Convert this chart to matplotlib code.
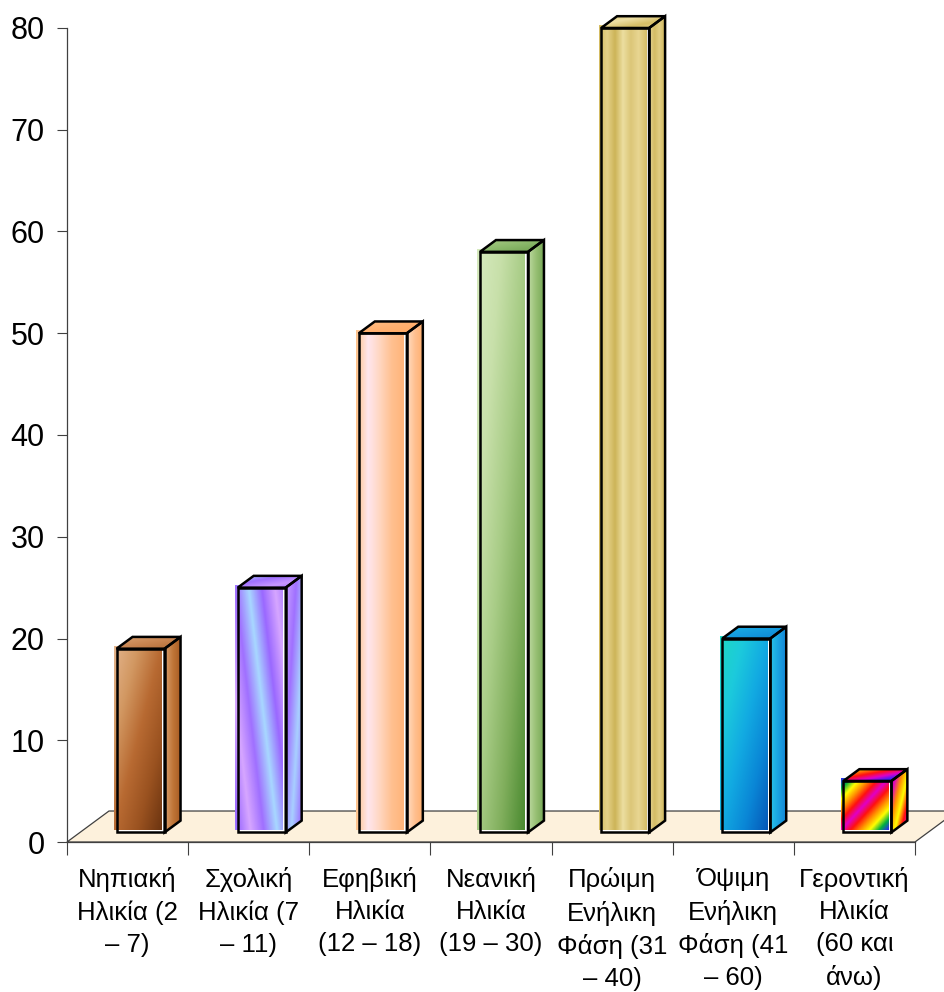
import numpy as np
import matplotlib.pyplot as plt
from matplotlib.colors import LinearSegmentedColormap
from matplotlib.patches import Polygon, Rectangle

plt.rcParams['font.family'] = ['Liberation Sans', 'DejaVu Sans']

categories = [
    "Νηπιακή\nΗλικία (2\n– 7)",
    "Σχολική\nΗλικία (7\n– 11)",
    "Εφηβική\nΗλικία\n(12 – 18)",
    "Νεανική\nΗλικία\n(19 – 30)",
    "Πρώιμη\nΕνήλικη\nΦάση (31\n– 40)",
    "Όψιμη\nΕνήλικη\nΦάση (41\n– 60)",
    "Γεροντική\nΗλικία\n(60 και\nάνω)",
]
values = [19, 25, 50, 58, 80, 20, 6]
yticks = list(range(0, 81, 10))

# gradient fills per bar: front, side, top colour stops and how the front runs
front_stops = [
    ['#e4b48c', '#d29862', '#b86a32', '#9a5220', '#6c3410'],
    ['#a070ff', '#a8d8ff', '#9a68ff', '#d6a6ff', '#a070ff'],
    ['#ffc48c', '#ffe6ee', '#ffd6c0', '#ffc090', '#ffb47a'],
    ['#d6eabe', '#c8e0aa', '#a8cc86', '#80ae5c', '#4a8a30'],
    ['#d4bc62', '#e4d088', '#cdb458', '#ecdea0', '#dcc678', '#e8d692', '#d6be68'],
    ['#1ed8c4', '#1ccadc', '#12aae2', '#0a86d6', '#0658b8'],
    ['#3020ff', '#00b040', '#ffff00', '#ff9000', '#ff1010', '#e000c8',
     '#ff1010', '#ff9000', '#ffff00', '#00b040', '#3020ff'],
]
front_mode = ['diag', 'stripe', 'horiz', 'diag', 'horiz', 'diag', 'diag']
side_stops = [
    ['#d69c6a', '#c07638', '#a85c24'],
    ['#c8a0ff', '#a070ff', '#a8d0ff', '#9a68ff'],
    ['#ffdcc0', '#ffc090', '#ffb070'],
    ['#bcd8a0', '#98c074', '#78aa58'],
    ['#e6d494', '#d4bc64', '#e2ce84', '#d0b85e'],
    ['#28c4e8', '#1aa4e2', '#1488d8'],
    ['#ff1010', '#e000c8', '#ff9000', '#ffff00', '#ff1010', '#e000c8'],
]
top_stops = [
    ['#d8a070', '#c88450', '#b06a34'],
    ['#a8d0ff', '#a070ff', '#c898ff', '#9a68ff'],
    ['#ffc088', '#ffb070', '#ffa862'],
    ['#a8ca86', '#8ab86a', '#6e9e4e'],
    ['#d8c26c', '#eee0a6', '#d6be66', '#e6d48e'],
    ['#1cb0e4', '#149ade', '#0c84d2'],
    ['#ffff00', '#ff9000', '#ff1010', '#e000c8', '#3020ff', '#00b040'],
]


def face(stops, mode, h=240, w=80):
    u = np.linspace(0, 1, w)[None, :]
    d = np.linspace(0, 1, h)[:, None]
    if mode == 'diag':
        t = (u + d) / 2
    elif mode == 'horiz':
        t = u + 0 * d
    else:
        t = ((u - 0.6 * d) * 0.9) % 1.0
    cmap = LinearSegmentedColormap.from_list('f', stops)
    return cmap(t)


fig = plt.figure(figsize=(9.45, 9.92), dpi=100)
ax = fig.add_axes([0, 0, 1, 1])

# pixel scale of one category / one value unit
px_x, px_y = 121.14, 10.175
DX, DY = 42 / px_x, 31 / px_y
half = 24 / px_x
f0, f1 = 0.31, 0.69

floor = Polygon([(0, 0), (7, 0), (7 + DX, DY), (DX, DY)], closed=True,
                fc='#fdf1dc', ec='#404040', lw=0.9, zorder=1)
ax.add_patch(floor)

for i, v in enumerate(values):
    L = i + 0.5 - half + f0 * DX
    R = L + 2 * half
    b = f0 * DY
    ddx, ddy = (f1 - f0) * DX, (f1 - f0) * DY
    sx, sy = 2.6 / px_x, 2.8 / px_y

    ax.add_patch(Rectangle((L, b), R - L, v - b, fc='white', ec='none', zorder=2))
    ax.imshow(face(front_stops[i], front_mode[i]), extent=(L - sx, R - sx, b + sy, v + sy),
              aspect='auto', interpolation='bilinear', zorder=3)

    side_pts = [(R, b), (R + ddx, b + ddy), (R + ddx, v + ddy), (R, v)]
    top_pts = [(L, v), (R, v), (R + ddx, v + ddy), (L + ddx, v + ddy)]

    side_clip = Polygon(side_pts, closed=True, transform=ax.transData)
    smode = 'diag' if i in (1, 6) else 'horiz'
    im = ax.imshow(face(side_stops[i], smode, 120, 20), extent=(R, R + ddx, b, v + ddy),
                   aspect='auto', interpolation='bilinear', zorder=3.2)
    im.set_clip_path(side_clip)

    top_clip = Polygon(top_pts, closed=True, transform=ax.transData)
    im = ax.imshow(face(top_stops[i], 'diag', 30, 60), extent=(L, R + ddx, v, v + ddy),
                   aspect='auto', interpolation='bilinear', zorder=3.4)
    im.set_clip_path(top_clip)

    for pts in ([(L, b), (R, b), (R, v), (L, v)], side_pts, top_pts):
        ax.add_patch(Polygon(pts, closed=True, fill=False, ec='black', lw=1.8,
                             joinstyle='miter', zorder=5))

ax.set_xlim(-0.553, 7.248)
ax.set_ylim(-14.74, 82.75)

for s in ('top', 'right'):
    ax.spines[s].set_visible(False)
ax.spines['left'].set_position(('data', 0))
ax.spines['left'].set_bounds(0, 80)
ax.spines['bottom'].set_position(('data', 0))
ax.spines['bottom'].set_bounds(0, 7)
for s in ('left', 'bottom'):
    ax.spines[s].set_color('#404040')
    ax.spines[s].set_linewidth(0.9)
    ax.spines[s].set_zorder(1.5)

ax.set_yticks(yticks)
ax.set_yticklabels([str(t) for t in yticks])
ax.tick_params(axis='y', length=7.2, width=0.8, color='#404040', labelsize=22, pad=9)

ax.set_xticks(range(8))
ax.set_xticklabels([])
ax.set_xticks(np.arange(7) + 0.5, categories, minor=True)
ax.tick_params(axis='x', which='major', length=9.4, width=0.8, color='#404040')
ax.tick_params(axis='x', which='minor', length=0, labelsize=18.5, pad=18)
for lab in ax.get_xticklabels(minor=True):
    lab.set_linespacing(1.43)

fig.savefig('out.png', dpi=100)
